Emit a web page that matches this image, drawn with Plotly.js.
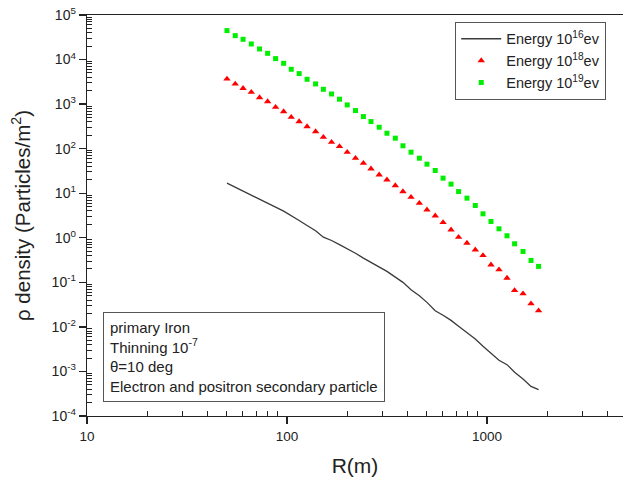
<!DOCTYPE html>
<html>
<head>
<meta charset="utf-8">
<script src="https://cdn.plot.ly/plotly-3.0.1.min.js"></script>
<style>html,body{margin:0;padding:0;background:#fff;overflow:hidden;}</style>
</head>
<body>
<div id="chart" style="width:623px;height:477px;"></div>
<script>
// Radius values R (m)
const radius = [50.1, 55.1, 60.3, 66.3, 72.9, 80.0, 87.7, 96.2, 105, 115,
  126, 139, 152, 167, 183, 200, 220, 241, 263, 289,
  316, 348, 380, 417, 459, 501, 551, 603, 661, 721,
  794, 874, 955, 1047, 1148, 1259, 1374, 1514, 1660, 1811];

// Density, Energy 10^16 eV (line)
const e16 = [16.8, 13.7, 11.1, 9.2, 7.5, 5.98, 4.87, 3.96, 3.17, 2.45,
  1.89, 1.44, 1.03, 0.87, 0.70, 0.57, 0.45, 0.35, 0.28, 0.22,
  0.176, 0.131, 0.0998, 0.0683, 0.050, 0.0355, 0.0231, 0.0182, 0.0140, 0.0103,
  0.00755, 0.00535, 0.00366, 0.00251, 0.00178, 0.00142, 0.00096, 0.00068, 0.00046, 0.00039];

// Density, Energy 10^18 eV (triangles)
const e18 = [3670, 2840, 2270, 1850, 1400, 1140, 851, 680, 508, 406,
  313, 242, 181, 140, 112, 83.4, 61.1, 47.2, 35.2, 25.9,
  20.0, 14.9, 10.9, 8.17, 5.98, 4.25, 3.11, 2.21, 1.51, 1.03,
  0.759, 0.538, 0.402, 0.248, 0.192, 0.125, 0.0659, 0.0555, 0.0331, 0.0231];

// Density, Energy 10^19 eV (squares)
const e19 = [44600, 34400, 28500, 22400, 17300, 13800, 10500, 8240, 6050, 4840,
  3610, 2840, 2150, 1690, 1290, 959, 716, 525, 406, 303,
  222, 172, 116, 83.4, 61.1, 44.9, 32.4, 21.8, 16.0, 10.9,
  7.75, 5.31, 3.45, 2.32, 1.59, 1.11, 0.733, 0.493, 0.310, 0.228];

const seriesNames = ["Energy 10<sup>16</sup>ev", "Energy 10<sup>18</sup>ev", "Energy 10<sup>19</sup>ev"];

const xTickVals = [10, 100, 1000];
const xTickText = ["10", "100", "1000"];
const yTickVals = [1e-4, 1e-3, 1e-2, 1e-1, 1, 10, 100, 1000, 1e4, 1e5];
const yTickText = ["10<sup>-4</sup>", "10<sup>-3</sup>", "10<sup>-2</sup>", "10<sup>-1</sup>", "10<sup>0</sup>",
  "10<sup>1</sup>", "10<sup>2</sup>", "10<sup>3</sup>", "10<sup>4</sup>", "10<sup>5</sup>"];

const infoLines = ["primary Iron", "Thinning 10<sup>-7</sup>", "θ=10 deg", "Electron and positron secondary particle"];

function minorVals(lo, hi) {
  const out = [];
  for (let e = lo; e < hi; e++) {
    for (let m = 2; m <= 9; m++) out.push(m * Math.pow(10, e));
  }
  return out;
}

const font = "Liberation Sans, Arial, sans-serif";

const traces = [
  {x: radius, y: e16, name: seriesNames[0], type: "scatter", mode: "lines",
   line: {color: "#3a3a3a", width: 1.3}},
  {x: radius, y: e18, name: seriesNames[1], type: "scatter", mode: "markers",
   marker: {symbol: "triangle-up", color: "#ff0000", size: 6.5}},
  {x: radius, y: e19, name: seriesNames[2], type: "scatter", mode: "markers",
   marker: {symbol: "square", color: "#00ee00", size: 5}}
];

const layout = {
  width: 623, height: 477,
  margin: {l: 87, r: 0, t: 15, b: 61},
  paper_bgcolor: "#fff", plot_bgcolor: "#fff",
  font: {family: font, size: 13, color: "#222"},
  showlegend: true,
  legend: {x: 0.687, y: 0.983, xanchor: "left", yanchor: "top",
    bordercolor: "#555", borderwidth: 1, bgcolor: "#fff",
    font: {family: font, size: 14.5, color: "#222"}, tracegroupgap: 0, itemwidth: 40},
  xaxis: {
    type: "log", range: [1, 3.68],
    tickvals: xTickVals, ticktext: xTickText,
    ticks: "outside", ticklen: 7, tickwidth: 1.3, tickcolor: "#222",
    minor: {tickvals: minorVals(1, 4), ticks: "inside", ticklen: 5, tickwidth: 1, tickcolor: "#222", showgrid: false},
    showline: true, linecolor: "#222", linewidth: 1.3, mirror: true,
    showgrid: false, zeroline: false,
    tickfont: {family: font, size: 13.5, color: "#222"},
    title: {text: "R(m)", font: {family: font, size: 21, color: "#222"}, standoff: 16}
  },
  yaxis: {
    type: "log", range: [-4, 5],
    tickvals: yTickVals, ticktext: yTickText,
    ticks: "outside", ticklen: 7, tickwidth: 1.3, tickcolor: "#222",
    minor: {tickvals: minorVals(-4, 5), ticks: "inside", ticklen: 5, tickwidth: 1, tickcolor: "#222", showgrid: false},
    showline: true, linecolor: "#222", linewidth: 1.3, mirror: false,
    showgrid: false, zeroline: false,
    tickfont: {family: font, size: 14, color: "#222"},
    title: {text: "ρ density (Particles/m<sup>2</sup>)", font: {family: font, size: 20.5, color: "#222"}, standoff: 15}
  },
  annotations: [{
    xref: "paper", yref: "paper", x: 0.030, y: 0.035, xanchor: "left", yanchor: "bottom",
    text: infoLines.join("<br>"), align: "left", showarrow: false,
    font: {family: font, size: 15, color: "#222"},
    bordercolor: "#555", borderwidth: 1, borderpad: 6, bgcolor: "#fff"
  }]
};

Plotly.newPlot("chart", traces, layout, {staticPlot: true, displayModeBar: false});
</script>
</body>
</html>
